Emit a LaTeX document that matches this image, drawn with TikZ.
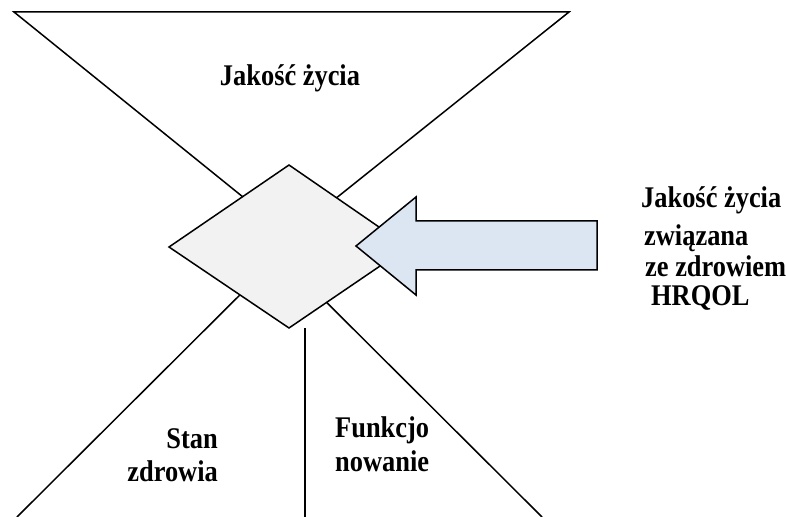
\documentclass[tikz,border=0pt]{standalone}
\usepackage{fontspec}
\setmainfont{Liberation Serif}
\definecolor{diafill}{HTML}{F2F2F2}
\definecolor{arrfill}{HTML}{DCE6F2}
\newcommand{\condtxt}[1]{\scalebox{0.88}[1]{#1}}
\begin{document}
\begin{tikzpicture}[x=1bp,y=-1bp,
  edge/.style={draw=black,line width=1.5bp,line join=miter},
  lbl/.style={inner sep=0pt,font=\fontsize{30bp}{34bp}\selectfont\bfseries}]
\useasboundingbox (0,0) rectangle (786,517);
% coordinates
\coordinate (tl) at (14,12);
\coordinate (tr) at (569,12);
\coordinate (tapex) at (290,235);
\coordinate (bl) at (17,517);
\coordinate (blapex) at (289,246);
\coordinate (br) at (542,517);
\coordinate (brapex) at (270,246);
\coordinate (vtop) at (305,328);
\coordinate (vbot) at (305,517);
% lines
\draw[edge] (tapex) -- (tl) -- (tr) -- cycle;
\draw[edge] (bl) -- (blapex);
\draw[edge] (br) -- (brapex);
\draw[edge] (vtop) -- (vbot);
% diamond
\draw[edge,fill=diafill] (289,165) -- (408,247) -- (289,328) -- (169,247) -- cycle;
% arrow
\draw[edge,fill=arrfill] (356,246) -- (416,197) -- (416,221) -- (597,221) -- (597,270) -- (416,270) -- (416,295) -- cycle;
% texts
\node[lbl,anchor=base] (tq) at (290,86) {\condtxt{Jakość życia}};
\node[lbl,anchor=base west] (r1) at (641,208) {\condtxt{Jakość życia}};
\node[lbl,anchor=base west] (r2) at (644,246) {\condtxt{związana}};
\node[lbl,anchor=base west] (r3) at (645,277) {\condtxt{ze zdrowiem}};
\node[lbl,anchor=base west] (r4) at (651,306) {\condtxt{HRQOL}};
\node[lbl,anchor=base east] (s1) at (218,448) {\condtxt{Stan}};
\node[lbl,anchor=base east] (s2) at (218,481) {\condtxt{zdrowia}};
\node[lbl,anchor=base west] (f1) at (335,437) {\condtxt{Funkcjo}};
\node[lbl,anchor=base west] (f2) at (335,471) {\condtxt{nowanie}};
\end{tikzpicture}
\end{document}
